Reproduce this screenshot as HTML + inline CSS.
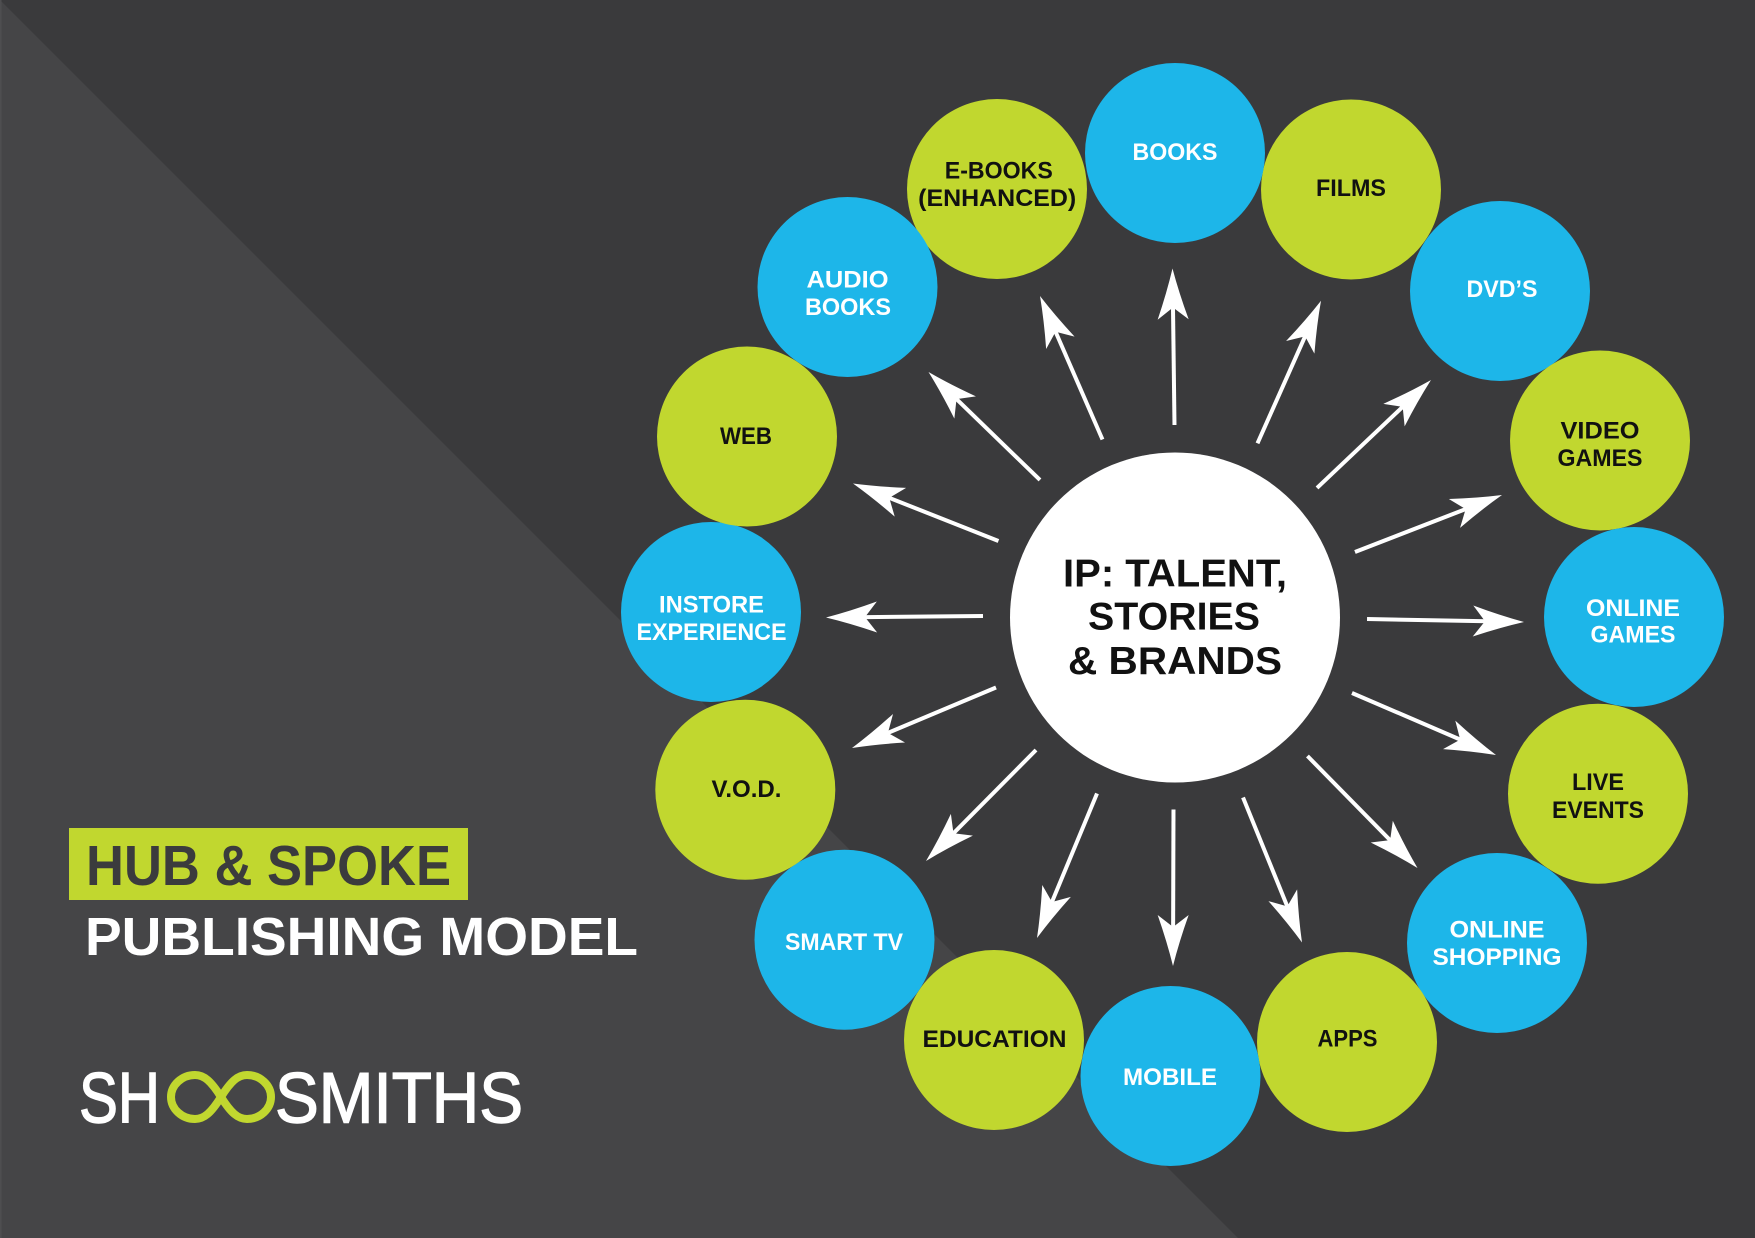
<!DOCTYPE html>
<html>
<head>
<meta charset="utf-8">
<style>
  html,body{margin:0;padding:0;background:#3a3a3c;}
  svg{display:block;}
  .lbl{font-family:"Liberation Sans",Arial,sans-serif;font-weight:bold;font-size:24px;text-anchor:middle;}
  .w{fill:#ffffff;}
  .d{fill:#111111;}
</style>
</head>
<body>
<svg width="1755" height="1238" viewBox="0 0 1755 1238" xmlns="http://www.w3.org/2000/svg">
  <!-- background -->
  <rect x="0" y="0" width="1755" height="1238" fill="#3a3a3c"/>
  <polygon points="0,0 1238,1238 0,1238" fill="#454547"/>
  <rect x="0" y="0" width="1.5" height="1238" fill="#4e4e50"/>

  <!-- outer circles -->
  <g>
    <circle cx="997" cy="189" r="90" fill="#c1d72f"/>
    <circle cx="1351" cy="189.5" r="90" fill="#c1d72f"/>
    <circle cx="1175" cy="153" r="90" fill="#1db6e9"/>
    <circle cx="1500" cy="291" r="90" fill="#1db6e9"/>
    <circle cx="1600" cy="440.5" r="90" fill="#c1d72f"/>
    <circle cx="1634" cy="617" r="90" fill="#1db6e9"/>
    <circle cx="1598" cy="793.7" r="90" fill="#c1d72f"/>
    <circle cx="1497" cy="943" r="90" fill="#1db6e9"/>
    <circle cx="1347" cy="1042" r="90" fill="#c1d72f"/>
    <circle cx="1170.5" cy="1076" r="90" fill="#1db6e9"/>
    <circle cx="994" cy="1040" r="90" fill="#c1d72f"/>
    <circle cx="844.5" cy="939.7" r="90" fill="#1db6e9"/>
    <circle cx="745.3" cy="789.7" r="90" fill="#c1d72f"/>
    <circle cx="711" cy="612" r="90" fill="#1db6e9"/>
    <circle cx="747" cy="436.5" r="90" fill="#c1d72f"/>
    <circle cx="847.5" cy="287" r="90" fill="#1db6e9"/>
  </g>

  <!-- hub -->
  <circle cx="1175" cy="617.5" r="165" fill="#ffffff"/>

  <!-- arrows -->
  <g fill="#ffffff" stroke="none">
    <g transform="translate(1172.5,268.5) rotate(-90.73)"><line x1="-156.5" y1="0" x2="-30" y2="0" stroke="#fff" stroke-width="4"/><path d="M0,0 Q-24,-6 -51,-15.5 L-39,0 L-51,15.5 Q-24,6 0,0 Z"/></g>
    <g transform="translate(1321,300.7) rotate(-65.99)"><line x1="-156.1" y1="0" x2="-30" y2="0" stroke="#fff" stroke-width="4"/><path d="M0,0 Q-24,-6 -51,-15.5 L-39,0 L-51,15.5 Q-24,6 0,0 Z"/></g>
    <g transform="translate(1431,380) rotate(-43.45)"><line x1="-157" y1="0" x2="-30" y2="0" stroke="#fff" stroke-width="4"/><path d="M0,0 Q-24,-6 -51,-15.5 L-39,0 L-51,15.5 Q-24,6 0,0 Z"/></g>
    <g transform="translate(1502,495) rotate(-21.19)"><line x1="-157.7" y1="0" x2="-30" y2="0" stroke="#fff" stroke-width="4"/><path d="M0,0 Q-24,-6 -51,-15.5 L-39,0 L-51,15.5 Q-24,6 0,0 Z"/></g>
    <g transform="translate(1524,622) rotate(1.09)"><line x1="-157" y1="0" x2="-30" y2="0" stroke="#fff" stroke-width="4"/><path d="M0,0 Q-24,-6 -51,-15.5 L-39,0 L-51,15.5 Q-24,6 0,0 Z"/></g>
    <g transform="translate(1496,755) rotate(23.3)"><line x1="-156.8" y1="0" x2="-30" y2="0" stroke="#fff" stroke-width="4"/><path d="M0,0 Q-24,-6 -51,-15.5 L-39,0 L-51,15.5 Q-24,6 0,0 Z"/></g>
    <g transform="translate(1417.5,868) rotate(45.5)"><line x1="-157" y1="0" x2="-30" y2="0" stroke="#fff" stroke-width="4"/><path d="M0,0 Q-24,-6 -51,-15.5 L-39,0 L-51,15.5 Q-24,6 0,0 Z"/></g>
    <g transform="translate(1302,942.5) rotate(67.86)"><line x1="-156.5" y1="0" x2="-30" y2="0" stroke="#fff" stroke-width="4"/><path d="M0,0 Q-24,-6 -51,-15.5 L-39,0 L-51,15.5 Q-24,6 0,0 Z"/></g>
    <g transform="translate(1173,966) rotate(90.18)"><line x1="-156.5" y1="0" x2="-30" y2="0" stroke="#fff" stroke-width="4"/><path d="M0,0 Q-24,-6 -51,-15.5 L-39,0 L-51,15.5 Q-24,6 0,0 Z"/></g>
    <g transform="translate(1037,938) rotate(112.55)"><line x1="-156.5" y1="0" x2="-30" y2="0" stroke="#fff" stroke-width="4"/><path d="M0,0 Q-24,-6 -51,-15.5 L-39,0 L-51,15.5 Q-24,6 0,0 Z"/></g>
    <g transform="translate(926,861) rotate(134.74)"><line x1="-156.3" y1="0" x2="-30" y2="0" stroke="#fff" stroke-width="4"/><path d="M0,0 Q-24,-6 -51,-15.5 L-39,0 L-51,15.5 Q-24,6 0,0 Z"/></g>
    <g transform="translate(852,748) rotate(157.21)"><line x1="-156.2" y1="0" x2="-30" y2="0" stroke="#fff" stroke-width="4"/><path d="M0,0 Q-24,-6 -51,-15.5 L-39,0 L-51,15.5 Q-24,6 0,0 Z"/></g>
    <g transform="translate(826,617.5) rotate(179.45)"><line x1="-157" y1="0" x2="-30" y2="0" stroke="#fff" stroke-width="4"/><path d="M0,0 Q-24,-6 -51,-15.5 L-39,0 L-51,15.5 Q-24,6 0,0 Z"/></g>
    <g transform="translate(853,483.5) rotate(-158.43)"><line x1="-156.4" y1="0" x2="-30" y2="0" stroke="#fff" stroke-width="4"/><path d="M0,0 Q-24,-6 -51,-15.5 L-39,0 L-51,15.5 Q-24,6 0,0 Z"/></g>
    <g transform="translate(928.5,372) rotate(-135.91)"><line x1="-155.2" y1="0" x2="-30" y2="0" stroke="#fff" stroke-width="4"/><path d="M0,0 Q-24,-6 -51,-15.5 L-39,0 L-51,15.5 Q-24,6 0,0 Z"/></g>
    <g transform="translate(1040,296) rotate(-113.53)"><line x1="-156.5" y1="0" x2="-30" y2="0" stroke="#fff" stroke-width="4"/><path d="M0,0 Q-24,-6 -51,-15.5 L-39,0 L-51,15.5 Q-24,6 0,0 Z"/></g>
  </g>

  <!-- hub text -->
  <g font-family="Liberation Sans, Arial, sans-serif" font-weight="bold" font-size="39" fill="#111111" text-anchor="middle">
    <text x="1175" y="586.5" textLength="224" lengthAdjust="spacingAndGlyphs">IP: TALENT,</text>
    <text x="1174" y="629.5" textLength="172" lengthAdjust="spacingAndGlyphs">STORIES</text>
    <text x="1175" y="674" textLength="214" lengthAdjust="spacingAndGlyphs">&amp; BRANDS</text>
  </g>

  <!-- circle labels -->
  <text class="lbl w" x="1175" y="160" textLength="85" lengthAdjust="spacingAndGlyphs">BOOKS</text>
  <text class="lbl d" x="1351" y="196" textLength="70" lengthAdjust="spacingAndGlyphs">FILMS</text>
  <text class="lbl w" x="1502" y="297" textLength="71" lengthAdjust="spacingAndGlyphs">DVD’S</text>
  <text class="lbl d" x="1600" y="438.5" textLength="79" lengthAdjust="spacingAndGlyphs">VIDEO</text>
  <text class="lbl d" x="1600" y="466" textLength="85" lengthAdjust="spacingAndGlyphs">GAMES</text>
  <text class="lbl w" x="1633" y="616" textLength="94" lengthAdjust="spacingAndGlyphs">ONLINE</text>
  <text class="lbl w" x="1633" y="642.5" textLength="85" lengthAdjust="spacingAndGlyphs">GAMES</text>
  <text class="lbl d" x="1598" y="790" textLength="52" lengthAdjust="spacingAndGlyphs">LIVE</text>
  <text class="lbl d" x="1598" y="818" textLength="92" lengthAdjust="spacingAndGlyphs">EVENTS</text>
  <text class="lbl w" x="1497" y="937.5" textLength="95" lengthAdjust="spacingAndGlyphs">ONLINE</text>
  <text class="lbl w" x="1497" y="965" textLength="129" lengthAdjust="spacingAndGlyphs">SHOPPING</text>
  <text class="lbl d" x="1347.5" y="1046.5" textLength="60" lengthAdjust="spacingAndGlyphs">APPS</text>
  <text class="lbl w" x="1170" y="1085" textLength="94" lengthAdjust="spacingAndGlyphs">MOBILE</text>
  <text class="lbl d" x="994.5" y="1047" textLength="144" lengthAdjust="spacingAndGlyphs">EDUCATION</text>
  <text class="lbl w" x="844" y="950" textLength="118" lengthAdjust="spacingAndGlyphs">SMART TV</text>
  <text class="lbl d" x="746.5" y="797" textLength="70" lengthAdjust="spacingAndGlyphs">V.O.D.</text>
  <text class="lbl w" x="711.5" y="612.7" textLength="105" lengthAdjust="spacingAndGlyphs">INSTORE</text>
  <text class="lbl w" x="711.5" y="640" textLength="150" lengthAdjust="spacingAndGlyphs">EXPERIENCE</text>
  <text class="lbl d" x="746" y="444" textLength="52" lengthAdjust="spacingAndGlyphs">WEB</text>
  <text class="lbl w" x="847.5" y="287.7" textLength="82" lengthAdjust="spacingAndGlyphs">AUDIO</text>
  <text class="lbl w" x="848" y="315" textLength="86" lengthAdjust="spacingAndGlyphs">BOOKS</text>
  <text class="lbl d" x="998.8" y="178.3" textLength="108" lengthAdjust="spacingAndGlyphs">E-BOOKS</text>
  <text class="lbl d" x="997.2" y="206" textLength="158" lengthAdjust="spacingAndGlyphs">(ENHANCED)</text>

  <!-- title -->
  <rect x="69" y="828" width="399" height="72" fill="#c1d72f"/>
  <text x="86" y="885" font-family="Liberation Sans, Arial, sans-serif" font-weight="bold" font-size="57" fill="#3b3b3d" textLength="365" lengthAdjust="spacingAndGlyphs">HUB &amp; SPOKE</text>
  <text x="85" y="955" font-family="Liberation Sans, Arial, sans-serif" font-weight="bold" font-size="54" fill="#ffffff" textLength="553" lengthAdjust="spacingAndGlyphs">PUBLISHING MODEL</text>

  <!-- logo -->
  <g font-family="Liberation Sans, Arial, sans-serif" font-size="71" fill="#ffffff" stroke="#ffffff" stroke-width="1.4">
    <text x="79" y="1122.7" textLength="81" lengthAdjust="spacingAndGlyphs">SH</text>
    <text x="275" y="1122.7" textLength="248" lengthAdjust="spacingAndGlyphs">SMITHS</text>
  </g>
  <path d="M221,1097 C231,1081 238,1075 247,1075 C260,1075 271,1085 271,1097 C271,1109 260,1119 247,1119 C238,1119 231,1113 221,1097 C211,1081 204,1075 195,1075 C182,1075 171,1085 171,1097 C171,1109 182,1119 195,1119 C204,1119 211,1113 221,1097 Z" fill="none" stroke="#c1d72f" stroke-width="8"/>
</svg>
</body>
</html>
